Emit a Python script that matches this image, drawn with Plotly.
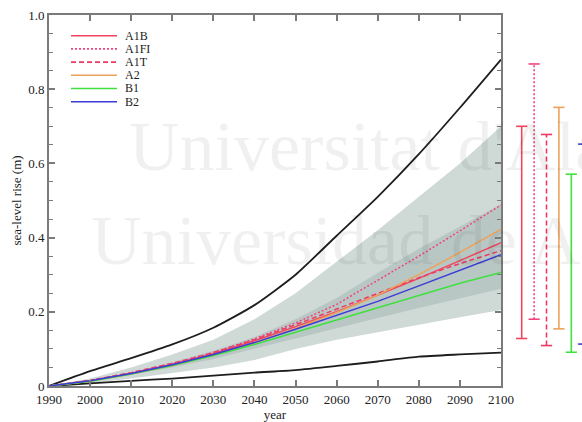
import plotly.graph_objects as go

# ---------------- data ----------------
years = [1990, 2000, 2010, 2020, 2030, 2040, 2050, 2060, 2070, 2080, 2090, 2100]

model_upper = [0, 0.04, 0.075, 0.112, 0.157, 0.218, 0.30, 0.405, 0.51, 0.625, 0.75, 0.88]
model_lower = [0, 0.007, 0.014, 0.02, 0.028, 0.036, 0.043, 0.054, 0.066, 0.079, 0.085, 0.09]

outer_hi = [0, 0.02, 0.05, 0.085, 0.125, 0.18, 0.25, 0.335, 0.42, 0.51, 0.60, 0.70]
outer_lo = [0, 0.008, 0.02, 0.035, 0.05, 0.07, 0.10, 0.125, 0.145, 0.165, 0.185, 0.205]
inner_hi = [0, 0.015, 0.037, 0.064, 0.095, 0.132, 0.18, 0.237, 0.305, 0.37, 0.43, 0.49]
inner_lo = [0, 0.012, 0.03, 0.05, 0.073, 0.10, 0.128, 0.155, 0.183, 0.21, 0.237, 0.262]

scenarios = ["A1B", "A1FI", "A1T", "A2", "B1", "B2"]
A1B  = [0, 0.014, 0.034, 0.058, 0.087, 0.122, 0.16, 0.20, 0.245, 0.29, 0.338, 0.386]
A1FI = [0, 0.014, 0.035, 0.06, 0.09, 0.127, 0.17, 0.22, 0.285, 0.35, 0.418, 0.488]
A1T  = [0, 0.015, 0.036, 0.061, 0.09, 0.125, 0.165, 0.207, 0.25, 0.292, 0.33, 0.365]
A2   = [0, 0.013, 0.032, 0.055, 0.083, 0.116, 0.155, 0.198, 0.245, 0.30, 0.36, 0.423]
B1   = [0, 0.013, 0.032, 0.055, 0.082, 0.112, 0.145, 0.178, 0.21, 0.245, 0.277, 0.306]
B2   = [0, 0.014, 0.034, 0.057, 0.085, 0.117, 0.153, 0.19, 0.228, 0.27, 0.312, 0.354]
series = [A1B, A1FI, A1T, A2, B1, B2]

bar_low  = [0.128, 0.18, 0.109, 0.154, 0.091, 0.113]
bar_high = [0.70, 0.868, 0.678, 0.751, 0.571, 0.652]

y_tickvals = [0, 0.2, 0.4, 0.6, 0.8, 1.0]
y_ticktext = ["0", "0.2", "0.4", "0.6", "0.8", "1.0"]
x_tickvals = [1990, 2000, 2010, 2020, 2030, 2040, 2050, 2060, 2070, 2080, 2090, 2100]

watermark_lines = ["Universitat d'Alacant", "Universidad de Alicante"]

# ---------------- styles ----------------
colors = ["#f2445e", "#f0447c", "#ee3a62", "#eda25a", "#3fe03f", "#3b3bd6"]
dashes = ["solid", "2px,2px", "5px,3px", "solid", "solid", "solid"]
FONT = "Liberation Serif"
AX = "#7a7a7a"

W, H = 582, 422
ML, MR, MT, MB = 49, 0, 15, 36
plot_w = W - ML - MR
main_right = 501
dom_split = (main_right - ML) / plot_w

fig = go.Figure()

# bands
fig.add_trace(go.Scatter(x=years + years[::-1], y=outer_hi + outer_lo[::-1],
                         fill="toself", fillcolor="#cfd9d6", line=dict(width=0),
                         mode="lines", hoverinfo="skip", showlegend=False))
fig.add_trace(go.Scatter(x=years + years[::-1], y=inner_hi + inner_lo[::-1],
                         fill="toself", fillcolor="#b9c7c4", line=dict(width=0),
                         mode="lines", hoverinfo="skip", showlegend=False))
# model envelope
for arr in (model_upper, model_lower):
    fig.add_trace(go.Scatter(x=years, y=arr, mode="lines",
                             line=dict(color="#1e1e1e", width=1.8, shape="spline", smoothing=0.6),
                             showlegend=False))
# scenarios
for name, arr, c, d in zip(scenarios, series, colors, dashes):
    fig.add_trace(go.Scatter(x=years, y=arr, mode="lines", name=name,
                             line=dict(color=c, width=1.5, dash=d), showlegend=False))

# range bars (outside the main plot)
for i, (name, lo, hi, c, d) in enumerate(zip(scenarios, bar_low, bar_high, colors, dashes)):
    fig.add_trace(go.Scatter(x=[i, i], y=[lo, hi], mode="lines+markers",
                             xaxis="x2", yaxis="y2",
                             line=dict(color=c, width=1.6, dash=d),
                             marker=dict(symbol="line-ew", size=8,
                                         line=dict(color=c, width=1.6)),
                             showlegend=False))

# watermark (pixel-space overlay, clipped at the figure edge)
fig.add_trace(go.Scatter(x=[129, 91], y=[152, 246], mode="text",
                         text=watermark_lines, textposition="middle right",
                         textfont=dict(family=FONT, size=70, color="rgba(0,0,0,0.06)"),
                         xaxis="x3", yaxis="y3", hoverinfo="skip", showlegend=False,
                         cliponaxis=True))

# bar axis: index 0 at px 521.7, spacing 12.4 px
sp = 12.4
first = 521.7 - main_right
last_px = W - main_right
x2_range = [-first / sp, (last_px - first) / sp]

fig.update_layout(
    width=W, height=H, autosize=False,
    margin=dict(l=ML, r=MR, t=MT, b=MB, pad=0, autoexpand=False),
    paper_bgcolor="white", plot_bgcolor="rgba(0,0,0,0)",
    font=dict(family=FONT, size=13, color="#222"),
    showlegend=False,
    xaxis=dict(domain=[0, dom_split], range=[1990, 2100], tickvals=x_tickvals,
               ticks="inside", ticklen=6, tickwidth=1.5, tickcolor=AX,
               showline=True, linecolor=AX, linewidth=2, mirror="ticks",
               showgrid=False, zeroline=False, automargin=False,
               title=dict(text="year", font=dict(size=13), standoff=2),
               tickfont=dict(size=13)),
    yaxis=dict(range=[0, 1], tickvals=y_tickvals, ticktext=y_ticktext,
               ticks="inside", ticklen=6, tickwidth=1.5, tickcolor=AX,
               minor=dict(dtick=0.05, ticks="inside", ticklen=4, tickcolor=AX, tickwidth=1.2),
               showline=True, linecolor=AX, linewidth=2, mirror="ticks",
               showgrid=False, zeroline=False, automargin=False,
               title=dict(text="sea-level rise (m)", font=dict(size=13), standoff=4),
               tickfont=dict(size=13)),
    xaxis2=dict(domain=[dom_split, 1], range=x2_range, visible=False, anchor="y2"),
    yaxis2=dict(range=[0, 1], visible=False, anchor="x2"),
    xaxis3=dict(domain=[0, 1], range=[ML, W], visible=False, anchor="y3"),
    yaxis3=dict(domain=[0, 1], range=[H - MB, MT], visible=False, anchor="x3"),
)

# manual legend
def px_x(px):
    return (px - ML) / plot_w

def px_y(py):
    return (H - MB - py) / (H - MB - MT)

leg_y0 = 35.7
leg_dy = 13.2
for i, (name, c, d) in enumerate(zip(scenarios, colors, dashes)):
    yy = px_y(leg_y0 + i * leg_dy)
    fig.add_shape(type="line", xref="paper", yref="paper",
                  x0=px_x(71), x1=px_x(117), y0=yy, y1=yy,
                  line=dict(color=c, width=1.6, dash=d))
    fig.add_annotation(xref="paper", yref="paper", x=px_x(123), y=yy,
                       xanchor="left", yanchor="middle", text=name, showarrow=False,
                       font=dict(size=12, color="#222"))

fig.write_html("out.html")
